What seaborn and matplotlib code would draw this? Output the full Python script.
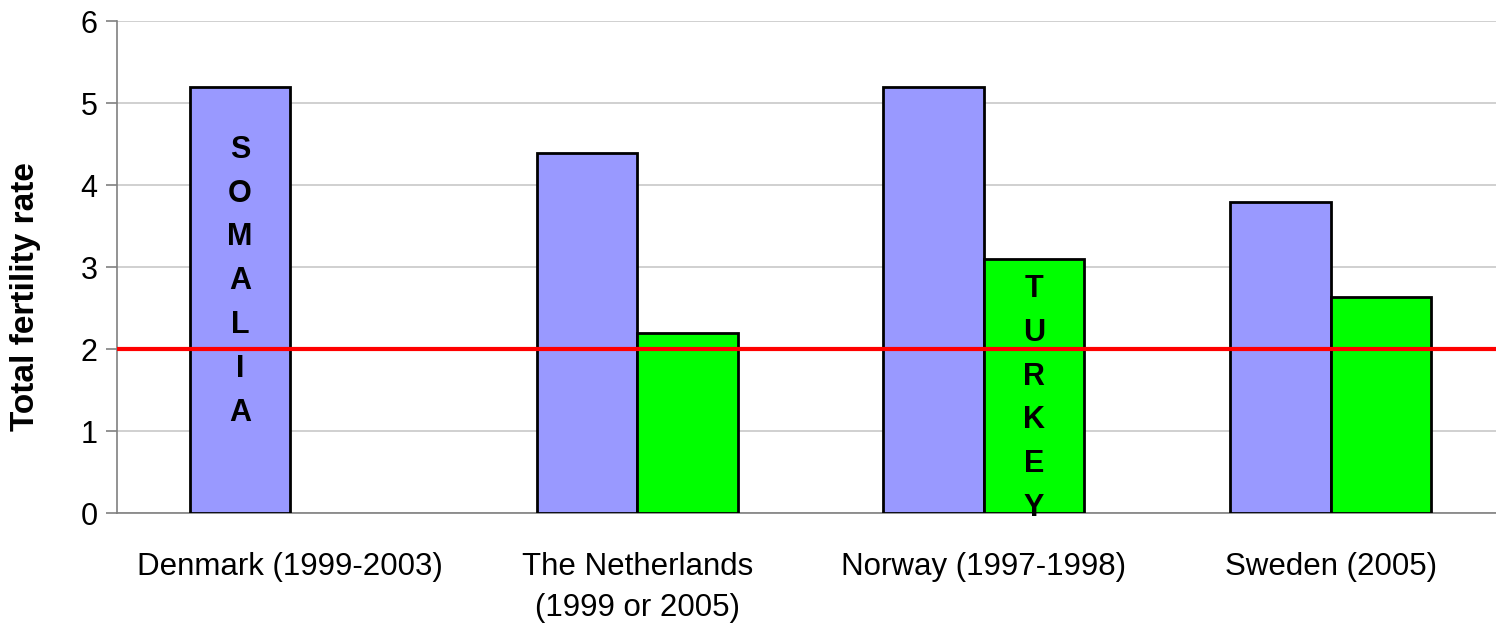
import numpy as np
import pandas as pd
import matplotlib
matplotlib.use("Agg")
import matplotlib.pyplot as plt
import seaborn as sns

countries = ["Denmark (1999-2003)", "The Netherlands\n(1999 or 2005)",
             "Norway (1997-1998)", "Sweden (2005)"]
somalia = [5.2, 4.4, 5.2, 3.8]
turkey = [np.nan, 2.2, 3.1, 2.64]
replacement_level = 2.0
y_ticks = [0, 1, 2, 3, 4, 5, 6]

df = pd.DataFrame({
    "country": countries * 2,
    "origin": ["Somalia"] * 4 + ["Turkey"] * 4,
    "tfr": somalia + turkey,
})

sns.set_theme(style="white")
plt.rcParams["font.family"] = ["Liberation Sans", "DejaVu Sans"]

fig = plt.figure(figsize=(14.96, 6.24), dpi=100)
ax = fig.add_axes([117 / 1496, 1 - 513.3 / 624, (1504 - 117) / 1496, (513.3 - 21.3) / 624])

sns.barplot(data=df, x="country", y="tfr", hue="origin", order=countries,
            hue_order=["Somalia", "Turkey"],
            palette={"Somalia": "#9999FF", "Turkey": "#00FF00"},
            width=0.58, edgecolor="black", linewidth=2, saturation=1,
            legend=False, ax=ax, zorder=3)

ax.axhline(replacement_level, color="#FF0000", linewidth=3, zorder=4)

ax.set_xlim(-0.5, 3.5)
ax.set_ylim(0, 6)
ax.set_yticks(y_ticks)
ax.yaxis.grid(True, color="#C8C8C8", linewidth=1.2, zorder=0)
ax.set_axisbelow(True)

for side in ["top", "right"]:
    ax.spines[side].set_visible(False)
for side in ["left", "bottom"]:
    ax.spines[side].set_color("#808080")
    ax.spines[side].set_linewidth(1.2)

ax.set_xticks(np.arange(len(countries)))
ax.set_xticklabels(countries, fontsize=22.5, linespacing=1.45, color="black")
ax.set_xticks(np.arange(len(countries)) - 0.5, minor=True)
ax.tick_params(axis="x", which="major", length=0, pad=28)
ax.tick_params(axis="x", which="minor", length=6, width=1.2, color="#808080", direction="out")
ax.tick_params(axis="y", length=8, width=1.2, color="#808080", direction="out",
               labelsize=22, labelcolor="black", pad=6, left=True)
ax.set_xlabel("")
ax.set_ylabel("Total fertility rate", fontsize=24, fontweight="bold", color="black")
ax.yaxis.set_label_coords(-0.055, 0.44)


def bar_in_group(container, group_index):
    for patch in container.patches:
        if abs(patch.get_x() + patch.get_width() / 2 - group_index) < 0.5:
            return patch


# vertical country names written inside the bars
som_bar = bar_in_group(ax.containers[0], 0)
tur_bar = bar_in_group(ax.containers[1], 2)
ax.text(som_bar.get_x() + som_bar.get_width() / 2, 2.83, "\n".join("SOMALIA"),
        ha="center", va="center", fontsize=22, fontweight="bold", color="black",
        linespacing=1.6, zorder=5)
ax.text(tur_bar.get_x() + tur_bar.get_width() / 2, 1.40, "\n".join("TURKEY"),
        ha="center", va="center", fontsize=22, fontweight="bold", color="black",
        linespacing=1.6, zorder=5, clip_on=False)

fig.savefig("out.png", dpi=100)
